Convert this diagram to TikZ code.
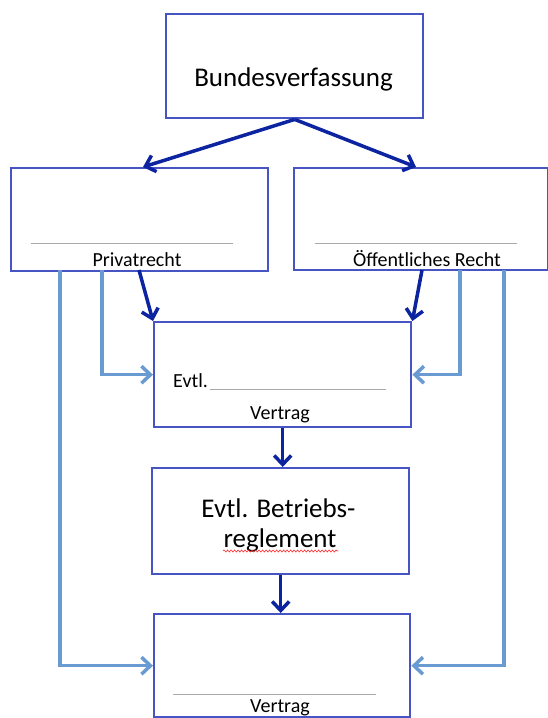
\documentclass[tikz,border=0pt]{standalone}
\usepackage{fontspec}
\setmainfont{Carlito}
\usetikzlibrary{arrows.meta,decorations.pathmorphing}
\definecolor{boxblue}{RGB}{70,84,196}
\definecolor{darkarr}{RGB}{12,36,160}
\definecolor{lightarr}{RGB}{105,155,210}
\definecolor{sepgray}{RGB}{170,170,170}
\tikzset{
  box/.style={draw=boxblue, line width=2.4pt, inner sep=0pt, anchor=north west, fill=white},
  darkline/.style={draw=darkarr, line width=3.5pt, -{Straight Barb[length=9pt,width=17pt]}},
  lightline/.style={draw=lightarr, line width=3.5pt, -{Straight Barb[length=9pt,width=17pt]}},
  sepline/.style={draw=sepgray, line width=1pt},
  lbl/.style={inner sep=0pt, anchor=base, text=black},
}
\begin{document}
\begin{tikzpicture}[x=1pt,y=-1pt]
\fill[white] (0,0) rectangle (548,718);
\useasboundingbox (0,0) rectangle (548,718);

% boxes
\node[box, minimum width=257pt, minimum height=104pt] (top) at (165,13) {};
\node[box, minimum width=257pt, minimum height=103pt] (pr) at (10,167) {};
\node[box, minimum width=254pt, minimum height=102pt] (oe) at (293,167) {};
\node[box, minimum width=257pt, minimum height=105pt] (ev) at (153,321) {};
\node[box, minimum width=257pt, minimum height=106pt] (br) at (151,467) {};
\node[box, minimum width=256pt, minimum height=103pt] (bot) at (153,613) {};

% texts
\node[lbl, font=\fontsize{27}{30}\selectfont] (tbv) at (293.5,86) {Bundesverfassung};
\node[lbl, font=\fontsize{20}{24}\selectfont] (tpr) at (137,266) {Privatrecht};
\node[lbl, font=\fontsize{20}{24}\selectfont] (toe) at (427,266) {Öffentliches Recht};
\node[lbl, anchor=base west, font=\fontsize{20}{24}\selectfont] (tev) at (173,387) {Evtl.};
\node[lbl, font=\fontsize{20}{24}\selectfont] (tvv) at (280,419) {Vertrag};
\node[lbl, font=\fontsize{27}{30}\selectfont] (tbr1) at (278.5,517) {Evtl. Betriebs-};
\node[lbl, font=\fontsize{27}{30}\selectfont] (tbr2) at (280,547) {reglement};
\node[lbl, font=\fontsize{20}{24}\selectfont] (tbv2) at (280,712) {Vertrag};

% separator lines
\draw[sepline] (31,243) -- (233,243);
\draw[sepline] (315,243) -- (517,243);
\draw[sepline] (210,389) -- (386,389);
\draw[sepline] (173,694) -- (376,694);

% spell-check underline
\draw[red!85!white, line width=0.6pt, decorate, decoration={snake, amplitude=1pt, segment length=3.5pt}] (223,551) -- (338,551);

% coordinates for connector ends
\coordinate (prin) at (143,167);
\coordinate (oein) at (416,167);
\coordinate (prd) at (139,270);
\coordinate (oed) at (422,270);
\coordinate (pri) at (102,270);
\coordinate (pro) at (60,270);
\coordinate (oei) at (460,270);
\coordinate (oeo) at (504,270);

% dark arrows
\draw[darkline] (top.south) -- (prin);
\draw[darkline] (top.south) -- (oein);
\draw[darkline] (prd) -- (ev.north west);
\draw[darkline] (oed) -- (ev.north east);
\draw[darkline] (ev.south) -- (ev.south |- br.north);
\draw[darkline] (br.south) -- (br.south |- bot.north);

% light arrows
\draw[lightline] (pri) |- (ev.west);
\draw[lightline] (oei) |- (ev.east);
\draw[lightline] (pro) |- (bot.west);
\draw[lightline] (oeo) |- (bot.east);
\end{tikzpicture}
\end{document}
